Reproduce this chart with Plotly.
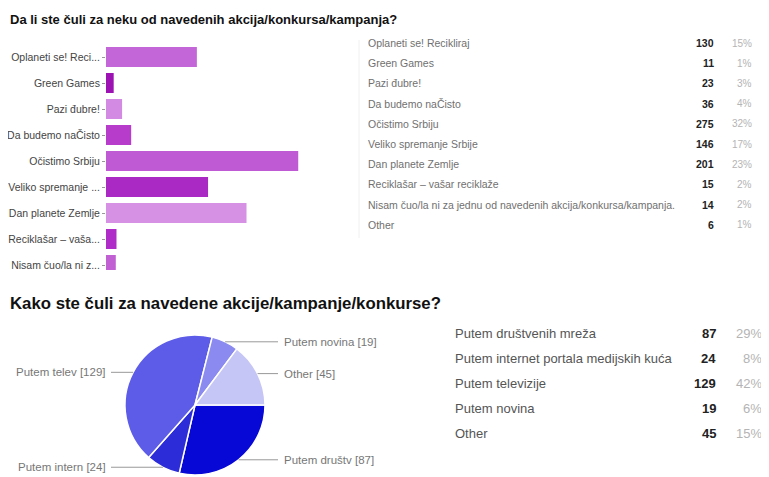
import math
import plotly.graph_objects as go

# page has an 8px body margin; the figure is sized to fit the 769x477 window
OFF = 8
W, H = 769 - OFF, 477 - OFF

# ---------------- data ----------------
q1_title = "Da li ste čuli za neku od navedenih akcija/konkursa/kampanja?"
q1_full = ["Oplaneti se! Recikliraj", "Green Games", "Pazi đubre!", "Da budemo naČisto",
           "Očistimo Srbiju", "Veliko spremanje Srbije", "Dan planete Zemlje",
           "Reciklašar – vašar reciklaže",
           "Nisam čuo/la ni za jednu od navedenih akcija/konkursa/kampanja.", "Other"]
q1_short = ["Oplaneti se! Reci...", "Green Games", "Pazi đubre!", "Da budemo naČisto",
            "Očistimo Srbiju", "Veliko spremanje ...", "Dan planete Zemlje",
            "Reciklašar – vaša...", "Nisam čuo/la ni z...", "Other"]
q1_counts = [130, 11, 23, 36, 275, 146, 201, 15, 14, 6]
q1_pct = ["15%", "1%", "3%", "4%", "32%", "17%", "23%", "2%", "2%", "1%"]
q1_colors = ["#c266d8", "#9c12b2", "#d28ae2", "#b83ccc", "#c05ad4",
             "#aa28c4", "#d690e4", "#b02cc8", "#c060d2", "#c060d2"]

q2_title = "Kako ste čuli za navedene akcije/kampanje/konkurse?"
q2_full = ["Putem društvenih mreža", "Putem internet portala medijskih kuća",
           "Putem televizije", "Putem novina", "Other"]
q2_short = ["Putem društv", "Putem intern", "Putem telev", "Putem novina", "Other"]
q2_counts = [87, 24, 129, 19, 45]
q2_pct = ["29%", "8%", "42%", "6%", "15%"]
q2_colors = ["#0808d6", "#2c2cd8", "#5c5ce8", "#8a8af0", "#c6c6f6"]

FONT = "Arial, Liberation Sans, sans-serif"


def px(x):
    return (x - OFF) / W


def py(y):
    return 1 - (y - OFF) / H


fig = go.Figure()

# ---------------- bar chart ----------------
fig.add_trace(go.Bar(
    x=q1_counts, y=q1_short, orientation="h",
    marker=dict(color=q1_colors, line=dict(width=0)),
    hoverinfo="x+y", showlegend=False,
))

row0, rowstep = 57, 26
bar_top, bar_bot = 44, 270
xa_l, xa_r = 106, 355
scale = 0.699
fig.update_layout(
    xaxis=dict(domain=[px(xa_l), px(xa_r)], range=[0, (xa_r - xa_l) / scale],
               showgrid=False, zeroline=False, showticklabels=False, showline=False,
               fixedrange=True),
    yaxis=dict(domain=[py(bar_bot), py(bar_top)],
               range=[(bar_bot - row0) / rowstep, (bar_top - row0) / rowstep],
               type="category", categoryorder="array", categoryarray=q1_short,
               showgrid=False, zeroline=False, showline=False,
               ticks="outside", ticklen=3, tickcolor="#999",
               tickfont=dict(family=FONT, size=10.5, color="#444"), fixedrange=True),
    bargap=0.23,
)

annotations = []
shapes = []

annotations.append(dict(text="<b>" + q1_title + "</b>", x=px(8), y=py(19), xref="paper", yref="paper",
                        xanchor="left", yanchor="middle", showarrow=False,
                        font=dict(family=FONT, size=13, color="#111")))

# separator line
shapes.append(dict(type="line", xref="paper", yref="paper", x0=px(359), x1=px(359),
                   y0=py(40), y1=py(238), line=dict(color="#f0f0f0", width=1)))

# top table
t1_y0, t1_step = 43, 20.2
for i, (lab, c, p) in enumerate(zip(q1_full, q1_counts, q1_pct)):
    yy = py(t1_y0 + i * t1_step)
    annotations.append(dict(text=lab, x=px(366), y=yy, xref="paper", yref="paper",
                            xanchor="left", yanchor="middle", showarrow=False,
                            font=dict(family=FONT, size=10.5, color="#707070")))
    annotations.append(dict(text="<b>%d</b>" % c, x=px(716), y=yy, xref="paper", yref="paper",
                            xanchor="right", yanchor="middle", showarrow=False,
                            font=dict(family=FONT, size=10.5, color="#222")))
    annotations.append(dict(text=p, x=px(754), y=yy, xref="paper", yref="paper",
                            xanchor="right", yanchor="middle", showarrow=False,
                            font=dict(family=FONT, size=10, color="#b4b4b4")))

# ---------------- pie chart ----------------
cx, cy, r = 195, 405, 70
fig.add_trace(go.Pie(
    values=q2_counts, labels=q2_short,
    marker=dict(colors=q2_colors, line=dict(color="white", width=1.5)),
    sort=False, direction="clockwise", rotation=90,
    textinfo="none", showlegend=False,
    domain=dict(x=[px(cx - r), px(cx + r)], y=[py(cy + r), py(cy - r)]),
))

annotations.append(dict(text="<b>" + q2_title + "</b>", x=px(8), y=py(303), xref="paper", yref="paper",
                        xanchor="left", yanchor="middle", showarrow=False,
                        font=dict(family=FONT, size=16.8, color="#111")))

total = sum(q2_counts)
cum = 0
for lab, c in zip(q2_short, q2_counts):
    mid = 90 + 360 * (cum + c / 2) / total
    cum += c
    a = math.radians(mid)
    ex = cx + r * math.sin(a)
    ey = cy - r * math.cos(a)
    right = math.sin(a) > 0
    if right:
        lx1, tx, anchor = 278, 282, "left"
    else:
        lx1, tx, anchor = 111, 108, "right"
    shapes.append(dict(type="line", xref="paper", yref="paper",
                       x0=px(ex), x1=px(lx1), y0=py(ey), y1=py(ey),
                       line=dict(color="#999", width=1)))
    annotations.append(dict(text="%s [%d]" % (lab, c), x=px(tx), y=py(ey),
                            xref="paper", yref="paper", xanchor=anchor, yanchor="middle",
                            showarrow=False, font=dict(family=FONT, size=11.5, color="#777")))

# bottom table
t2_y0, t2_step = 333, 25
for i, (lab, c, p) in enumerate(zip(q2_full, q2_counts, q2_pct)):
    yy = py(t2_y0 + i * t2_step)
    annotations.append(dict(text=lab, x=px(453), y=yy, xref="paper", yref="paper",
                            xanchor="left", yanchor="middle", showarrow=False,
                            font=dict(family=FONT, size=13, color="#555")))
    annotations.append(dict(text="<b>%d</b>" % c, x=px(718), y=yy, xref="paper", yref="paper",
                            xanchor="right", yanchor="middle", showarrow=False,
                            font=dict(family=FONT, size=13, color="#222")))
    annotations.append(dict(text=p, x=px(764), y=yy, xref="paper", yref="paper",
                            xanchor="right", yanchor="middle", showarrow=False,
                            font=dict(family=FONT, size=13, color="#b4b4b4")))

fig.update_layout(
    width=W, height=H,
    margin=dict(l=0, r=0, t=0, b=0),
    paper_bgcolor="white", plot_bgcolor="white",
    annotations=annotations, shapes=shapes,
    font=dict(family=FONT),
)

fig.write_html("out.html", config={"displayModeBar": False})
